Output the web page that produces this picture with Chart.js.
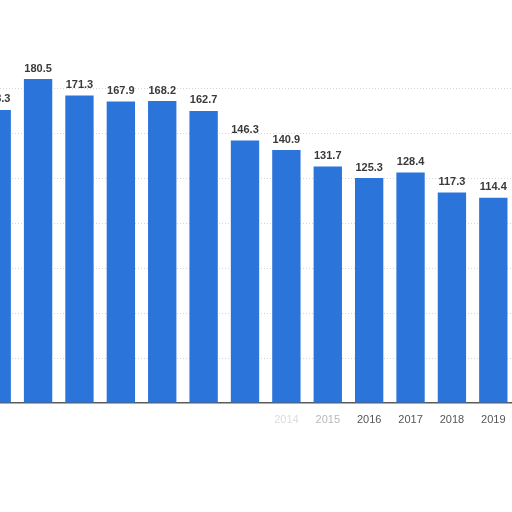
<!DOCTYPE html>
<html>
<head>
<meta charset="utf-8">
<script src="https://cdn.jsdelivr.net/npm/chart.js@4.4.1/dist/chart.umd.min.js"></script>
<style>
  html, body { margin: 0; padding: 0; background: #fff; overflow: hidden; width: 512px; height: 512px; }
  #wrap { position: absolute; left: -24px; top: 44px; width: 538px; height: 389px; }
</style>
</head>
<body>
<div id="wrap"><canvas id="c"></canvas></div>
<script>
// values (first bar is cut at the left edge)
var years  = ["2007", "2008", "2009", "2010", "2011", "2012", "2013", "2014", "2015", "2016", "2017", "2018", "2019"];
var values = [163.3, 180.5, 171.3, 167.9, 168.2, 162.7, 146.3, 140.9, 131.7, 125.3, 128.4, 117.3, 114.4];

var BLUE = "#2b74d9";
var FONT = "'Liberation Sans', Arial, sans-serif";

// labels on top of each bar
var valueLabels = {
  id: "valueLabels",
  afterDatasetsDraw: function(chart) {
    var ctx = chart.ctx;
    var meta = chart.getDatasetMeta(0);
    ctx.save();
    ctx.font = "bold 11px " + FONT;
    ctx.fillStyle = "#3a3a3a";
    ctx.textAlign = "center";
    ctx.textBaseline = "bottom";
    meta.data.forEach(function(bar, i) {
      ctx.fillText(values[i].toFixed(1), bar.x, bar.y - 5);
    });
    ctx.restore();
  }
};

// tick labels of the early years are rubbed out in the picture
function tickColor(c) {
  var y = parseInt(years[c.index], 10);
  if (y >= 2016) return "#555";
  if (y == 2015) return "#b8b8b8";
  if (y == 2014) return "#dcdcdc";
  return "rgba(0,0,0,0)";
}

new Chart(document.getElementById("c").getContext("2d"), {
  type: "bar",
  data: {
    labels: years,
    datasets: [{ data: values, backgroundColor: BLUE, borderWidth: 0, categoryPercentage: 1, barPercentage: 0.685 }]
  },
  options: {
    responsive: true,
    maintainAspectRatio: false,
    animation: false,
    layout: { padding: 0 },
    plugins: { legend: { display: false }, tooltip: { enabled: false } },
    scales: {
      x: {
        grid: { display: false },
        border: { display: true, color: "#5a5a5a", width: 1.5 },
        ticks: { color: tickColor, font: { family: FONT, size: 11 }, padding: 2, maxRotation: 0, autoSkip: false },
        afterFit: function(s) { s.height = 30; }
      },
      y: {
        display: true,
        min: 0, max: 200,
        afterFit: function(s) { s.width = 0; },
        ticks: { display: false, stepSize: 25 },
        border: { display: false, dash: [1, 2] },
        grid: {
          color: function(c) { return (c.tick.value > 0 && c.tick.value < 200) ? "#d4d4d4" : "rgba(0,0,0,0)"; },
          drawTicks: false
        }
      }
    }
  },
  plugins: [valueLabels]
});
</script>
</body>
</html>
